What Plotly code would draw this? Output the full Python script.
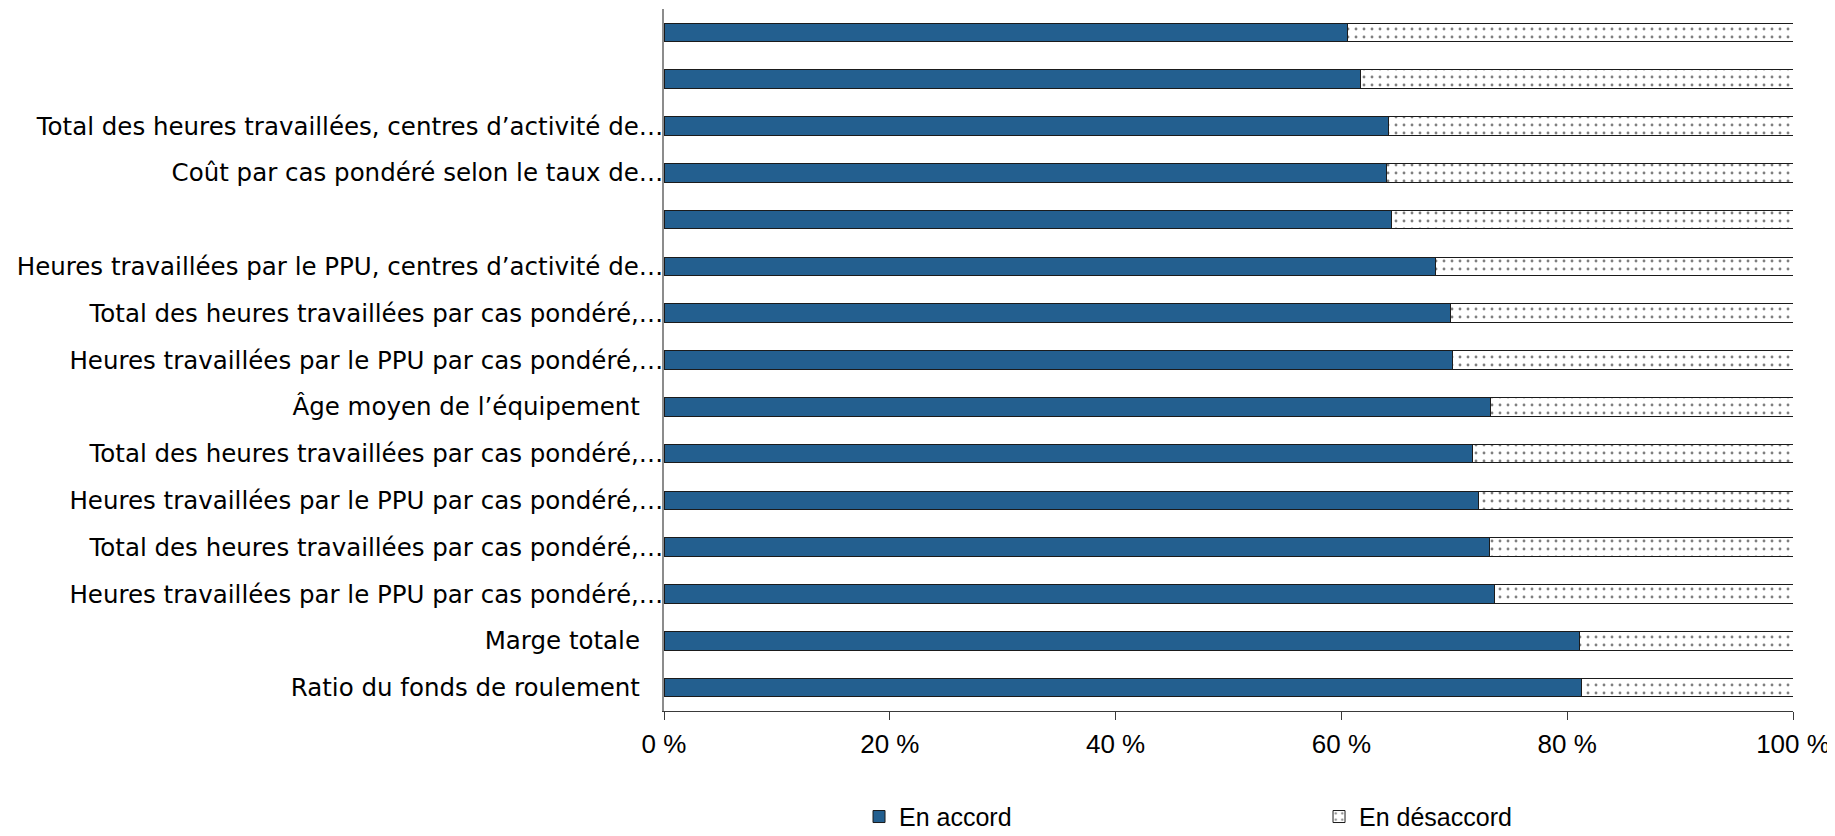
import plotly.graph_objects as go

# Categories listed from top to bottom as shown in the chart
categories = [
    "",
    "",
    "Total des heures travaillées, centres d’activité de…",
    "Coût par cas pondéré selon le taux de…",
    "",
    "Heures travaillées par le PPU, centres d’activité de…",
    "Total des heures travaillées par cas pondéré,…",
    "Heures travaillées par le PPU par cas pondéré,…",
    "Âge moyen de l’équipement",
    "Total des heures travaillées par cas pondéré,…",
    "Heures travaillées par le PPU par cas pondéré,…",
    "Total des heures travaillées par cas pondéré,…",
    "Heures travaillées par le PPU par cas pondéré,…",
    "Marge totale",
    "Ratio du fonds de roulement",
]

en_accord = [60.5, 61.7, 64.2, 64.0, 64.4, 68.3, 69.7, 69.8, 73.2, 71.6, 72.1, 73.1, 73.6, 81.1, 81.3]
en_desaccord = [39.5, 38.3, 35.8, 36.0, 35.6, 31.7, 30.3, 30.2, 26.8, 28.4, 27.9, 26.9, 26.4, 18.9, 18.7]

series_names = ["En accord", "En désaccord"]
x_ticks = [0, 20, 40, 60, 80, 100]
x_tick_labels = ["0 %", "20 %", "40 %", "60 %", "80 %", "100 %"]

positions = list(range(len(categories)))
NBSP = "\u00a0"
tick_text = [c if (c.endswith("…") or c == "") else c + NBSP * 3 for c in categories]

BLUE = "#235F8F"
ARIAL = "Liberation Sans, Arial, sans-serif"

# page body has an 8px default margin, so the figure is 8px smaller each way
W, H = 1827, 828

fig = go.Figure()
fig.add_trace(go.Bar(
    y=positions, x=en_accord, orientation="h", name=series_names[0],
    marker=dict(color=BLUE, line=dict(color="#1b1b1b", width=1)),
))
fig.add_trace(go.Bar(
    y=positions, x=en_desaccord, orientation="h", name=series_names[1],
    marker=dict(
        color="white",
        line=dict(color="#1b1b1b", width=1),
        pattern=dict(shape=".", fgcolor="#000000", bgcolor="white", size=8, solidity=0.1),
    ),
))

fig.update_layout(
    width=W, height=H,
    barmode="stack", bargap=0.6,
    plot_bgcolor="white", paper_bgcolor="white",
    margin=dict(l=656, r=42, t=1, b=125, autoexpand=False),
    font=dict(family=ARIAL, size=26, color="#000000"),
    showlegend=True,
    legend=dict(
        orientation="h", xref="container", yref="container",
        x=0.4658, xanchor="left", y=0.051, yanchor="top",
        entrywidth=415, entrywidthmode="pixels",
        font=dict(family=ARIAL, size=25),
        traceorder="normal", itemwidth=30,
    ),
)
fig.update_xaxes(
    range=[0, 100], tickvals=x_ticks, ticktext=x_tick_labels,
    showgrid=False, zeroline=False,
    showline=True, linecolor="#3a3a3a", linewidth=1,
    ticks="outside", ticklen=8, tickcolor="#3a3a3a", tickwidth=1,
    ticklabelstandoff=2,
    tickfont=dict(family=ARIAL, size=26),
)
fig.update_yaxes(
    range=[len(categories) - 0.5, -0.5],
    tickvals=positions, ticktext=tick_text,
    showgrid=False, zeroline=False,
    showline=True, linecolor="#8c8c8c", linewidth=1.5,
    ticks="", ticklabelstandoff=-6,
    tickfont=dict(family="DejaVu Sans, sans-serif", size=24.5),
)

fig.write_html("out.html")
